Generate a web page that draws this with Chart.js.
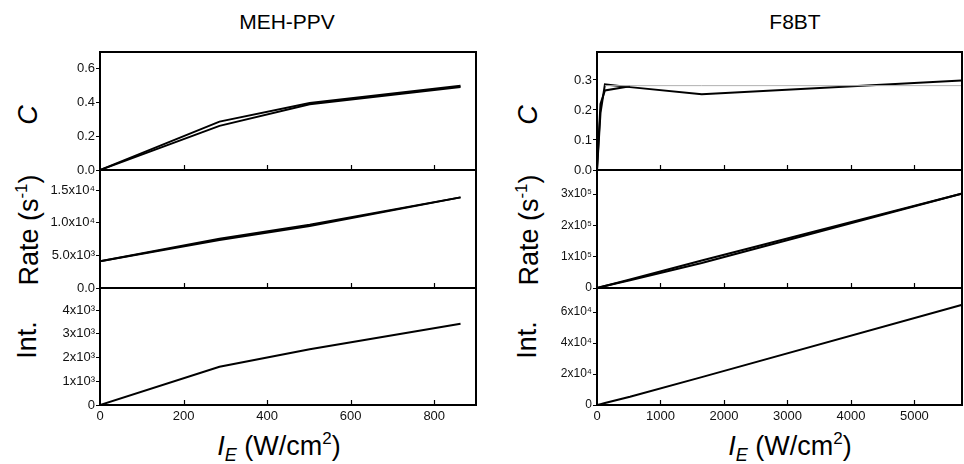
<!DOCTYPE html>
<html>
<head>
<meta charset="utf-8">
<script src="https://cdn.jsdelivr.net/npm/chart.js@4.4.1/dist/chart.umd.min.js"></script>
<style>
  body { margin: 0; background: #fff; width: 964px; height: 464px; position: relative; overflow: hidden;
         font-family: "Liberation Sans", Arial, sans-serif; color: #000; }
  canvas { position: absolute; }
  .t { position: absolute; white-space: nowrap; transform: translate(-50%, -50%); line-height: 1; }
  .r { transform: translate(-50%, -50%) rotate(-90deg); }
</style>
</head>
<body>
<div class="t" style="left:287px;top:21px;font-size:21px">MEH-PPV</div>
<div class="t" style="left:795px;top:21px;font-size:21px">F8BT</div>

<div class="t r" style="left:28px;top:115px;font-size:27px"><i>C</i></div>
<div class="t r" style="left:29px;top:230px;font-size:27px">Rate (s<span style="font-size:17px;position:relative;top:-11px">-1</span>)</div>
<div class="t r" style="left:27px;top:340px;font-size:27px">Int.</div>

<div class="t r" style="left:528px;top:115px;font-size:27px"><i>C</i></div>
<div class="t r" style="left:529px;top:230px;font-size:27px">Rate (s<span style="font-size:17px;position:relative;top:-11px">-1</span>)</div>
<div class="t r" style="left:527px;top:340px;font-size:27px">Int.</div>

<div class="t" style="left:279px;top:446px;font-size:27px"><i>I</i><i style="font-size:18px;position:relative;top:6px">E</i> (W/cm<span style="font-size:17px;position:relative;top:-11px">2</span>)</div>
<div class="t" style="left:790px;top:446px;font-size:27px"><i>I</i><i style="font-size:18px;position:relative;top:6px">E</i> (W/cm<span style="font-size:17px;position:relative;top:-11px">2</span>)</div>

<canvas id="c0"></canvas><canvas id="c1"></canvas><canvas id="c2"></canvas>
<canvas id="c3"></canvas><canvas id="c4"></canvas><canvas id="c5"></canvas>

<script>
// MEH-PPV (left column)
const mehX = [0, 286, 502, 863];
const mehC1 = [0, 0.287, 0.398, 0.500];
const mehC2 = [0, 0.262, 0.390, 0.492];
const mehRate1 = [4100, 7550, 9700, 13900];
const mehRate2 = [4100, 7350, 9500, 13900];
const mehInt = [0, 1610, 2350, 3420];

// F8BT (right column)
const f8X = [0, 55, 125, 520, 1650, 5740];
const f8C1 = [0, 0.19, 0.285, 0.276, 0.252, 0.298];
const f8C2 = [0, 0.22, 0.265, 0.279, null, null];
const f8CFit = [null, null, 0.281, 0.281, 0.281, 0.281];
const f8Rate1 = [0, 2700, 6100, 25000, 80000, 301000];
const f8Rate2 = [0, 2900, 6600, 27300, 88000, 301000];
const f8Int = [0, 550, 1250, 5300, 18000, 64500];

// axis ticks
const mehXTicks = [0, 200, 400, 600, 800];
const f8XTicks = [0, 1000, 2000, 3000, 4000, 5000];
const mehCTicks = [0, 0.2, 0.4, 0.6];
const mehCLabels = ['0.0', '0.2', '0.4', '0.6'];
const mehRateTicks = [0, 5000, 10000, 15000];
const mehRateLabels = ['0.0', '5.0x10³', '1.0x10⁴', '1.5x10⁴'];
const mehIntTicks = [0, 1000, 2000, 3000, 4000];
const mehIntLabels = ['0', '1x10³', '2x10³', '3x10³', '4x10³'];
const f8CTicks = [0, 0.1, 0.2, 0.3];
const f8CLabels = ['0.0', '0.1', '0.2', '0.3'];
const f8RateTicks = [0, 100000, 200000, 300000];
const f8RateLabels = ['0', '1x10⁵', '2x10⁵', '3x10⁵'];
const f8IntTicks = [0, 20000, 40000, 60000];
const f8IntLabels = ['0', '2x10⁴', '4x10⁴', '6x10⁴'];

const FONT = '"Liberation Sans", Arial, sans-serif';
const cols = [{ left: 100, width: 376 }, { left: 597, width: 365 }];
const rows = [{ top: 52, height: 118 }, { top: 170, height: 118 }, { top: 288, height: 117 }];

function pts(xs, ys) {
  return xs.map((x, i) => ({ x: x, y: ys[i] }));
}

function line(xs, ys, color, width) {
  return { data: pts(xs, ys), borderColor: color || '#000', borderWidth: width || 2,
           pointRadius: 0, tension: 0, fill: false, spanGaps: false };
}

const framePlugin = {
  id: 'frame',
  afterDraw(chart) {
    const { ctx, chartArea: a, scales } = chart;
    const xs = scales.x;
    ctx.save();
    ctx.strokeStyle = '#000';
    ctx.lineWidth = 1.2;
    xs.ticks.forEach(t => {
      if (t.value <= xs.min || t.value >= xs.max) return;
      const px = Math.round(xs.getPixelForValue(t.value)) + 0.5;
      ctx.beginPath();
      ctx.moveTo(px, a.bottom);
      ctx.lineTo(px, a.bottom - 5);
      ctx.stroke();
    });
    ctx.lineWidth = 2;
    ctx.strokeRect(a.left, a.top, a.right - a.left, a.bottom - a.top);
    ctx.restore();
  }
};

function makePanel(id, col, row, datasets, yMax, yTicks, yLabels, xMax, xTicks, fontSize) {
  const c = cols[col], r = rows[row];
  const bottom = row === 2;
  const cv = document.getElementById(id);
  const padB = bottom ? 0 : 10;
  const axisH = bottom ? 30 : 0;
  const w = 70 + c.width + 2;
  const h = 10 + r.height + axisH + padB;
  cv.style.left = (c.left - 70) + 'px';
  cv.style.top = (r.top - 10) + 'px';
  cv.width = w; cv.height = h;
  cv.style.width = w + 'px'; cv.style.height = h + 'px';

  new Chart(cv, {
    type: 'line',
    data: { datasets: datasets },
    plugins: [framePlugin],
    options: {
      responsive: false,
      animation: false,
      layout: { autoPadding: false, padding: { left: 0, top: 10, right: 2, bottom: padB } },
      plugins: { legend: { display: false }, tooltip: { enabled: false } },
      scales: {
        x: {
          type: 'linear', min: 0, max: xMax,
          afterBuildTicks: s => { s.ticks = xTicks.map(v => ({ value: v })); },
          afterFit: s => { s.height = axisH; },
          grid: { display: false, drawTicks: false },
          border: { display: false },
          ticks: {
            display: bottom, padding: 4, maxRotation: 0, autoSkip: false, color: '#111',
            font: { size: 13, family: FONT },
            callback: (v, i) => String(xTicks[i])
          }
        },
        y: {
          type: 'linear', min: 0, max: yMax,
          afterBuildTicks: s => { s.ticks = yTicks.map(v => ({ value: v })); },
          afterFit: s => { s.width = 70; },
          grid: { drawOnChartArea: false, drawTicks: true, tickLength: 4, color: '#000', lineWidth: 1 },
          border: { display: false },
          ticks: {
            padding: 1, autoSkip: false, color: '#111',
            font: { size: fontSize, family: FONT },
            callback: (v, i) => yLabels[i]
          }
        }
      }
    }
  });
}

makePanel('c0', 0, 0, [line(mehX, mehC1), line(mehX, mehC2)],
  0.7, mehCTicks, mehCLabels, 900, mehXTicks, 13);
makePanel('c1', 0, 1, [line(mehX, mehRate1), line(mehX, mehRate2)],
  18100, mehRateTicks, mehRateLabels, 900, mehXTicks, 13);
makePanel('c2', 0, 2, [line(mehX, mehInt)],
  4930, mehIntTicks, mehIntLabels, 900, mehXTicks, 13);

makePanel('c3', 1, 0, [line(f8X, f8CFit, '#b0b0b0', 1), line(f8X, f8C1), line(f8X, f8C2)],
  0.393, f8CTicks, f8CLabels, 5750, f8XTicks, 13);
makePanel('c4', 1, 1, [line(f8X, f8Rate1), line(f8X, f8Rate2)],
  377000, f8RateTicks, f8RateLabels, 5750, f8XTicks, 12);
makePanel('c5', 1, 2, [line(f8X, f8Int)],
  75500, f8IntTicks, f8IntLabels, 5750, f8XTicks, 12);
</script>
</body>
</html>
